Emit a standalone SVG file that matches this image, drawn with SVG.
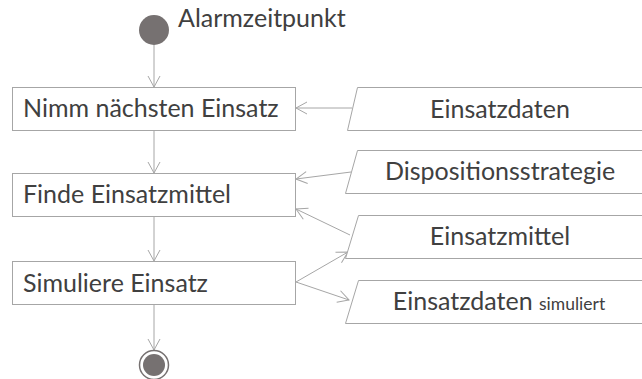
<svg xmlns="http://www.w3.org/2000/svg" width="642" height="379" viewBox="0 0 642 379">
<style>
.box{fill:#fff;stroke:#a6a6a6;stroke-width:1}
.obj{fill:#fff;stroke:#a6a6a6;stroke-width:1}
.t{font-family:Lato,"Open Sans",sans-serif;font-size:25px;fill:#404040}
.c{stroke:#a6a6a6;stroke-width:1;fill:none;marker-end:url(#ah)}
.dot{fill:#767171}
</style>
<defs>
<marker id="ah" markerWidth="14" markerHeight="14" refX="12" refY="7" orient="auto" markerUnits="userSpaceOnUse">
<path d="M1,1 L12,7 L1,13" fill="none" stroke="#a6a6a6" stroke-width="1"/>
</marker>
</defs>
<rect width="642" height="379" fill="#fff"/>
<g id="connectors">
<line class="c" x1="154" y1="45" x2="154" y2="87"/>
<line class="c" x1="154" y1="131" x2="154" y2="173"/>
<line class="c" x1="154" y1="216" x2="154" y2="261"/>
<line class="c" x1="154" y1="304" x2="154" y2="350"/>
<line class="c" x1="352" y1="108" x2="296" y2="108"/>
<line class="c" x1="351" y1="172" x2="296" y2="179"/>
<line class="c" x1="350" y1="235" x2="296" y2="209"/>
<line class="c" x1="296" y1="282" x2="348" y2="252"/>
<line class="c" x1="296" y1="282" x2="349" y2="300"/>
</g>
<g id="start">
<circle class="dot" cx="154" cy="30" r="15"/>
<text class="t" x="178" y="27">Alarmzeitpunkt</text>
</g>
<g id="n1">
<rect class="box" x="12.5" y="87.5" width="283" height="43"/>
<text class="t" x="23" y="117">Nimm nächsten Einsatz</text>
</g>
<g id="n2">
<rect class="box" x="12.5" y="173.5" width="283" height="43"/>
<text class="t" x="23" y="203">Finde Einsatzmittel</text>
</g>
<g id="n3">
<rect class="box" x="12.5" y="261.5" width="283" height="43"/>
<text class="t" x="23" y="292">Simuliere Einsatz</text>
</g>
<g id="end">
<circle cx="154" cy="365" r="14.5" fill="#fff" stroke="#767171" stroke-width="1.5"/>
<circle class="dot" cx="154" cy="365" r="11"/>
</g>
<g id="o1">
<polygon class="obj" points="357.5,87.5 650,87.5 650,130.5 347.5,130.5"/>
<text class="t" x="500" y="118" text-anchor="middle">Einsatzdaten</text>
</g>
<g id="o2">
<polygon class="obj" points="357.5,150.5 650,150.5 650,193.5 345.5,193.5"/>
<text class="t" x="500" y="180" text-anchor="middle">Dispositionsstrategie</text>
</g>
<g id="o3">
<polygon class="obj" points="358.5,215.5 650,215.5 650,258.5 345.5,258.5"/>
<text class="t" x="500" y="245" text-anchor="middle">Einsatzmittel</text>
</g>
<g id="o4">
<polygon class="obj" points="358.5,280.5 650,280.5 650,323.5 345.5,323.5"/>
<text class="t" x="499" y="310" text-anchor="middle">Einsatzdaten <tspan font-size="17.5px">simuliert</tspan></text>
</g>
</svg>
